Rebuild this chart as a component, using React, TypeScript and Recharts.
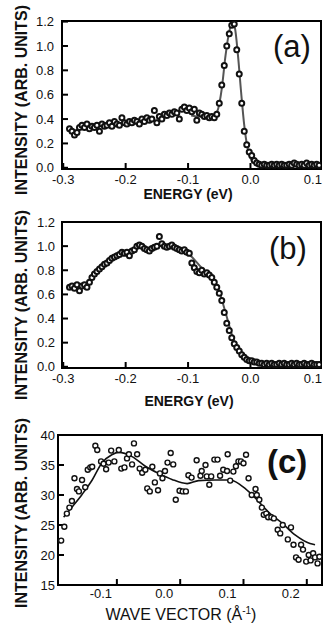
import React from 'react';
import { ComposedChart, Scatter, Line, XAxis, YAxis, ReferenceArea } from 'recharts';

const FONT = '"Liberation Sans", Arial, Helvetica, sans-serif';
const INK = '#111';

// shared energy grid for panels (a) and (b), eV
const energy = [
  -0.290, -0.286, -0.282, -0.278, -0.274, -0.270, -0.266, -0.262, -0.258, -0.254,
  -0.250, -0.246, -0.242, -0.238, -0.234, -0.230, -0.226, -0.222, -0.218, -0.214,
  -0.210, -0.206, -0.202, -0.198, -0.194, -0.190, -0.186, -0.182, -0.178, -0.174,
  -0.170, -0.166, -0.162, -0.158, -0.154, -0.150, -0.146, -0.142, -0.138, -0.134,
  -0.130, -0.126, -0.122, -0.118, -0.114, -0.110, -0.106, -0.102, -0.098, -0.094,
  -0.090, -0.086, -0.082, -0.078, -0.074, -0.070, -0.066, -0.062, -0.058, -0.054,
  -0.050, -0.046, -0.042, -0.038, -0.034, -0.030, -0.026, -0.022, -0.018, -0.014,
  -0.010, -0.006, -0.002, 0.002, 0.006, 0.010, 0.014, 0.018, 0.022, 0.026,
  0.030, 0.034, 0.038, 0.042, 0.046, 0.050, 0.054, 0.058, 0.062, 0.066,
  0.070, 0.074, 0.078, 0.082, 0.086, 0.090, 0.094, 0.098, 0.102, 0.106,
  0.110,
];

const intensityA = [
  0.32, 0.30, 0.27, 0.29, 0.33, 0.35, 0.33, 0.36, 0.32, 0.34,
  0.33, 0.35, 0.30, 0.36, 0.34, 0.35, 0.37, 0.34, 0.38, 0.36,
  0.35, 0.41, 0.37, 0.36, 0.38, 0.37, 0.39, 0.38, 0.36, 0.40,
  0.38, 0.41, 0.39, 0.40, 0.47, 0.37, 0.42, 0.40, 0.44, 0.43,
  0.45, 0.44, 0.46, 0.45, 0.40, 0.48, 0.50, 0.47, 0.49, 0.46,
  0.48, 0.39, 0.45, 0.44, 0.42, 0.43, 0.41, 0.42, 0.41, 0.44,
  0.53, 0.68, 0.84, 1.00, 1.10, 1.17, 1.18, 0.97, 0.77, 0.53,
  0.30, 0.19, 0.13, 0.10, 0.06, 0.04, 0.03, 0.02, 0.03, 0.02,
  0.02, 0.03, 0.02, 0.03, 0.02, 0.03, 0.02, 0.02, 0.03, 0.02,
  0.04, 0.03, 0.02, 0.03, 0.02, 0.04, 0.02, 0.03, 0.02, 0.03,
  0.02,
];

const intensityB = [
  0.66, 0.67, 0.65, 0.68, 0.63, 0.67, 0.68, 0.66, 0.70, 0.74,
  0.77, 0.79, 0.81, 0.83, 0.85, 0.86, 0.88, 0.90, 0.91, 0.92,
  0.93, 0.95, 0.94, 0.95, 0.92, 0.96, 0.97, 1.00, 1.01, 1.00,
  0.98, 0.97, 0.96, 0.98, 0.99, 1.00, 1.08, 1.02, 1.00, 0.99,
  1.00, 1.01, 0.99, 0.98, 0.97, 0.96, 0.97, 0.95, 0.94, 0.86,
  0.82, 0.79, 0.78, 0.80, 0.77, 0.78, 0.76, 0.74, 0.70, 0.66,
  0.61, 0.55, 0.45, 0.36, 0.30, 0.24, 0.19, 0.16, 0.13, 0.10,
  0.08, 0.06, 0.05, 0.05, 0.04, 0.04, 0.03, 0.03, 0.02, 0.03,
  0.02, 0.03, 0.02, 0.02, 0.03, 0.02, 0.03, 0.02, 0.02, 0.03,
  0.02, 0.03, 0.02, 0.02, 0.03, 0.02, 0.02, 0.03, 0.02, 0.02,
  0.02,
];

const fitEnergyA = [-0.095, -0.080, -0.065, -0.058, -0.052, -0.046, -0.040, -0.034, -0.029, -0.025, -0.020, -0.015, -0.010, -0.005, 0.000, 0.005, 0.015, 0.030, 0.060];
const fitA = [0.43, 0.42, 0.42, 0.43, 0.48, 0.65, 0.92, 1.12, 1.19, 1.15, 0.92, 0.62, 0.35, 0.17, 0.08, 0.04, 0.025, 0.02, 0.02];

const fitEnergyB = [-0.140, -0.120, -0.100, -0.080, -0.060, -0.050, -0.040, -0.030, -0.020, -0.010, 0.000, 0.010, 0.020, 0.026];
const fitB = [1.00, 0.99, 0.94, 0.83, 0.71, 0.62, 0.45, 0.27, 0.13, 0.06, 0.04, 0.03, 0.01, 0.0];

// panel (c): momentum distribution, 1/Å
const waveVector = [
  -0.188, -0.183, -0.179, -0.175, -0.171, -0.167, -0.163, -0.160, -0.155, -0.150,
  -0.146, -0.142, -0.139, -0.134, -0.131, -0.125, -0.121, -0.117, -0.113, -0.109,
  -0.104, -0.097, -0.093, -0.088, -0.084, -0.081, -0.076, -0.073, -0.068, -0.064,
  -0.060, -0.055, -0.052, -0.048, -0.044, -0.040, -0.035, -0.032, -0.028, -0.024,
  -0.020, -0.015, -0.011, -0.007, -0.001, 0.004, 0.009, 0.013, 0.018, 0.026,
  0.032, 0.034, 0.040, 0.042, 0.046, 0.049, 0.054, 0.059, 0.063, 0.068,
  0.074, 0.075, 0.079, 0.084, 0.088, 0.092, 0.096, 0.100, 0.104, 0.108,
  0.113, 0.119, 0.121, 0.125, 0.129, 0.132, 0.136, 0.139, 0.144, 0.148,
  0.154, 0.158, 0.162, 0.170, 0.175, 0.179, 0.183, 0.187, 0.191, 0.194,
  0.199, 0.203, 0.206, 0.210, 0.213, 0.217, 0.220,
];
const intensityC = [
  22.4, 24.7, 26.9, 27.9, 29.0, 32.8, 31.0, 30.6, 32.5, 31.3,
  34.2, 34.6, 34.7, 38.2, 37.5, 35.6, 35.2, 34.3, 35.4, 37.4,
  35.6, 37.5, 34.4, 34.6, 36.1, 36.8, 35.1, 38.6, 36.8, 34.4,
  33.7, 34.2, 31.1, 30.6, 34.7, 32.1, 30.8, 33.6, 32.8, 34.0,
  35.4, 37.0, 35.1, 29.2, 30.7, 30.6, 30.6, 33.3, 32.9, 35.8,
  33.2, 34.0, 35.0, 33.1, 31.7, 33.1, 35.9, 35.9, 33.2, 34.2,
  34.0, 36.8, 32.4, 33.9, 34.8, 35.6, 35.6, 35.3, 36.7, 32.8,
  30.0, 31.0, 30.0, 29.2, 27.9, 26.7, 26.9, 26.3, 26.3, 26.1,
  24.2, 23.6, 25.0, 22.6, 24.6, 21.7, 19.6, 19.2, 21.7, 20.9,
  18.9, 20.0, 19.1, 20.3, 19.6, 18.6, 19.7,
];

const fitWaveVector = [-0.184, -0.170, -0.155, -0.139, -0.124, -0.108, -0.097, -0.076, -0.055, -0.034, -0.013, 0.011, 0.029, 0.055, 0.079, 0.095, 0.111, 0.124, 0.142, 0.161, 0.182, 0.205, 0.213];
const fitC = [26.3, 28.1, 30.1, 32.5, 35.3, 36.7, 37.1, 36.4, 34.8, 33.6, 32.6, 31.9, 32.4, 32.5, 32.5, 31.7, 30.3, 28.9, 26.9, 25.3, 23.3, 21.9, 21.7];

const energyTicks = [-0.3, -0.2, -0.1, 0, 0.1];
const arbTicks = [0, 0.2, 0.4, 0.6, 0.8, 1.0, 1.2];
const waveTicks = [-0.1, 0, 0.1, 0.2];
const countTicks = [15, 20, 25, 30, 35, 40];

type Pt = { x: number; y: number };
const pair = (xs: number[], ys: number[]): Pt[] => xs.map((x, i) => ({ x, y: ys[i] }));

const FRAME = '#000';
const frameLine = { stroke: FRAME, strokeWidth: 2 };
const oneDecimal = (v: number) => v.toFixed(1);
const integer = (v: number) => String(Math.round(v));

const ring = (r: number, sw: number) => (p: any) => (
  <circle cx={p.cx} cy={p.cy} r={r} fill="#fff" stroke={INK} strokeWidth={sw} />
);

// x tick labels; panel (c) has its labels set a little left of the tick marks
const bottomTick = (shift: number) => (p: any) => (
  <text x={p.x + shift} y={p.y} dy="0.71em" textAnchor="middle" fontFamily={FONT} fontSize={13} fill={INK}>
    {oneDecimal(p.payload.value)}
  </text>
);

const yTitle = (cy: number) => (
  <text transform={`translate(26.5,${cy}) rotate(-90)`} textAnchor="middle" fontFamily={FONT} fontWeight="bold" fontSize={16} fill={INK}>
    INTENSITY (ARB. UNITS)
  </text>
);

interface PanelProps {
  top: number;
  height: number;
  marginTop: number;
  marginRight: number;
  yWidth: number;
  xHeight: number;
  xDomain: [number, number];
  yDomain: [number, number];
  xTicks: number[];
  yTicks: number[];
  yFormat: (v: number) => string;
  xTickMargin: number;
  yTickMargin: number;
  xTickShift: number;
  points: Pt[];
  fit: Pt[];
  dot: (p: any) => React.ReactElement;
  fitColor: string;
  fitWidth: number;
  yLabel: React.ReactElement;
  xLabel: React.ReactElement;
  letter: React.ReactElement;
}

function Panel(p: PanelProps) {
  return (
    <div style={{ position: 'absolute', left: 0, top: p.top, width: 327, height: p.height }}>
      <ComposedChart width={327} height={p.height} margin={{ top: p.marginTop, right: p.marginRight, bottom: 0, left: 0 }}>
        <XAxis
          xAxisId="b"
          type="number"
          dataKey="x"
          domain={p.xDomain}
          allowDataOverflow
          ticks={p.xTicks}
          interval={0}
          height={p.xHeight}
          stroke={FRAME}
          tickSize={-6}
          tickMargin={p.xTickMargin}
          axisLine={frameLine}
          tickLine={frameLine}
          tick={bottomTick(p.xTickShift)}
          label={{ content: () => p.xLabel }}
        />
        <XAxis
          xAxisId="t"
          orientation="top"
          type="number"
          dataKey="x"
          domain={p.xDomain}
          allowDataOverflow
          ticks={p.xTicks}
          interval={0}
          height={1}
          stroke={FRAME}
          tickSize={-6}
          axisLine={frameLine}
          tickLine={frameLine}
          tick={false}
          label={{ content: () => p.letter }}
        />
        <YAxis
          yAxisId="l"
          type="number"
          dataKey="y"
          domain={p.yDomain}
          allowDataOverflow
          ticks={p.yTicks}
          interval={0}
          width={p.yWidth}
          stroke={FRAME}
          tickSize={-6}
          tickMargin={p.yTickMargin}
          axisLine={frameLine}
          tickLine={frameLine}
          tick={{ fontFamily: FONT, fontSize: 13, fill: INK }}
          tickFormatter={p.yFormat}
          label={{ content: () => p.yLabel }}
        />
        <YAxis
          yAxisId="r"
          orientation="right"
          type="number"
          dataKey="y"
          domain={p.yDomain}
          allowDataOverflow
          ticks={p.yTicks}
          interval={0}
          width={1}
          stroke={FRAME}
          tickSize={-6}
          axisLine={frameLine}
          tickLine={frameLine}
          tick={false}
        />
        <ReferenceArea
          xAxisId="b"
          yAxisId="l"
          x1={p.xDomain[0]}
          x2={p.xDomain[1]}
          y1={p.yDomain[0]}
          y2={p.yDomain[1]}
          fill="none"
          stroke={FRAME}
          strokeWidth={2}
        />
        <Scatter xAxisId="b" yAxisId="l" data={p.points} dataKey="y" shape={p.dot} isAnimationActive={false} />
        <Line
          xAxisId="b"
          yAxisId="l"
          data={p.fit}
          dataKey="y"
          type="monotone"
          stroke={p.fitColor}
          strokeWidth={p.fitWidth}
          dot={false}
          activeDot={false}
          isAnimationActive={false}
        />
      </ComposedChart>
    </div>
  );
}

export default function App() {
  return (
    <div style={{ position: 'absolute', left: 0, top: 0, width: 327, height: 629, background: '#fff' }}>
      <Panel
        top={0}
        height={205}
        marginTop={20}
        marginRight={5}
        yWidth={62}
        xHeight={36}
        xDomain={[-0.302, 0.113]}
        yDomain={[-0.01, 1.205]}
        xTicks={energyTicks}
        yTicks={arbTicks}
        yFormat={oneDecimal}
        xTickMargin={12}
        yTickMargin={14}
        xTickShift={0}
        points={pair(energy, intensityA)}
        fit={pair(fitEnergyA, fitA)}
        dot={ring(2.5, 2)}
        fitColor="#555"
        fitWidth={2}
        yLabel={yTitle(100)}
        xLabel={
          <text x={188} y={199} textAnchor="middle" fontFamily={FONT} fontWeight="bold" fontSize={14} fill={INK}>
            ENERGY (eV)
          </text>
        }
        letter={
          <text x={273} y={57} fontFamily={FONT} fontSize={31} fill={INK}>
            (a)
          </text>
        }
      />
      <Panel
        top={205}
        height={210}
        marginTop={16}
        marginRight={5}
        yWidth={62}
        xHeight={47}
        xDomain={[-0.302, 0.113]}
        yDomain={[-0.01, 1.2]}
        xTicks={energyTicks}
        yTicks={arbTicks}
        yFormat={oneDecimal}
        xTickMargin={12}
        yTickMargin={13}
        xTickShift={0}
        points={pair(energy, intensityB)}
        fit={pair(fitEnergyB, fitB)}
        dot={ring(2.5, 2)}
        fitColor="#555"
        fitWidth={2}
        yLabel={yTitle(100)}
        xLabel={
          <text x={189} y={201} textAnchor="middle" fontFamily={FONT} fontWeight="bold" fontSize={14} fill={INK}>
            ENERGY (eV)
          </text>
        }
        letter={
          <text x={269} y={54} fontFamily={FONT} fontSize={31} fill={INK}>
            (b)
          </text>
        }
      />
      <Panel
        top={415}
        height={214}
        marginTop={19}
        marginRight={4}
        yWidth={58}
        xHeight={44}
        xDomain={[-0.193, 0.224]}
        yDomain={[15, 40]}
        xTicks={waveTicks}
        yTicks={countTicks}
        yFormat={integer}
        xTickMargin={10}
        yTickMargin={9}
        xTickShift={-16}
        points={pair(waveVector, intensityC)}
        fit={pair(fitWaveVector, fitC)}
        dot={ring(2.5, 1.4)}
        fitColor="#111"
        fitWidth={1.6}
        yLabel={yTitle(98)}
        xLabel={
          <text x={181} y={205} textAnchor="middle" fontFamily={FONT} fontSize={16} fill={INK}>
            WAVE VECTOR (Å<tspan dy={-6} fontSize={10}>-1</tspan>
            <tspan dy={6}>)</tspan>
          </text>
        }
        letter={
          <text x={267} y={58} fontFamily={FONT} fontWeight="bold" fontSize={33} fill={INK}>
            (c)
          </text>
        }
      />
    </div>
  );
}
